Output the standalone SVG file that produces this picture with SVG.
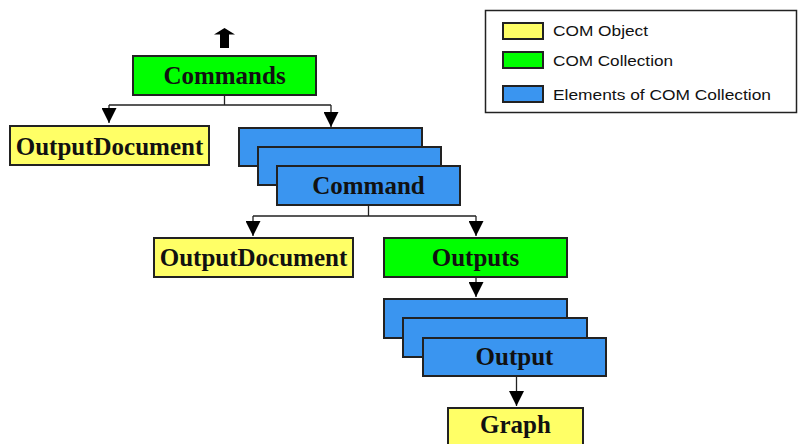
<svg xmlns="http://www.w3.org/2000/svg" width="799" height="444" viewBox="0 0 799 444">
<style>
.box{stroke:#222;stroke-width:2}
.obj{fill:#ffff66}
.col{fill:#00ff00}
.el{fill:#3a95f0}
.lbl{font-family:"Liberation Serif","Times New Roman",serif;font-weight:bold;font-size:25px;fill:#111;text-anchor:middle}
.leg{font-family:"Liberation Sans",Arial,sans-serif;font-size:15.5px;fill:#111}
.con{fill:none;stroke:#222;stroke-width:1.3}
</style>
<defs>
<marker id="ah" markerUnits="userSpaceOnUse" markerWidth="15" markerHeight="15" refX="15" refY="7.5" orient="auto">
<path d="M0,0 L15,7.5 L0,15 z" fill="#000"/>
</marker>
</defs>
<rect width="799" height="444" fill="#fff"/>
<g id="legend">
<rect x="485.5" y="10.5" width="311" height="102" fill="#fff" stroke="#222" stroke-width="1.5"/>
<rect class="box obj" x="503" y="23" width="40" height="16" stroke-width="1.5"/>
<rect class="box col" x="503" y="52" width="40" height="16" stroke-width="1.5"/>
<rect class="box el" x="503" y="86" width="40" height="16" stroke-width="1.5"/>
<text class="leg" x="553" y="35.5" textLength="95" lengthAdjust="spacingAndGlyphs">COM Object</text>
<text class="leg" x="553" y="66" textLength="120" lengthAdjust="spacingAndGlyphs">COM Collection</text>
<text class="leg" x="553" y="100" textLength="218" lengthAdjust="spacingAndGlyphs">Elements of COM Collection</text>
</g>
<g id="connectors">
<polygon points="214,34.5 224.5,28 235,34.5 229,34.5 229,48 220,48 220,34.5" fill="#000"/>
<path class="con" d="M224.5,95 V105 M109,105 H331"/>
<path class="con" d="M109,105 V123" marker-end="url(#ah)"/>
<path class="con" d="M331,105 V127" marker-end="url(#ah)"/>
<path class="con" d="M368.5,205 V216 M253,216 H476"/>
<path class="con" d="M253,216 V236" marker-end="url(#ah)"/>
<path class="con" d="M476,216 V236" marker-end="url(#ah)"/>
<path class="con" d="M476,277 V297" marker-end="url(#ah)"/>
<path class="con" d="M516.5,376 V406" marker-end="url(#ah)"/>
</g>
<g id="commands">
<rect class="box col" x="133" y="56" width="183" height="39"/>
<text class="lbl" x="224.5" y="84">Commands</text>
</g>
<g id="outputdocument1">
<rect class="box obj" x="10" y="126" width="199" height="39"/>
<text class="lbl" x="109.5" y="155">OutputDocument</text>
</g>
<g id="command">
<rect class="box el" x="239" y="128" width="183" height="38"/>
<rect class="box el" x="258" y="147" width="183" height="38"/>
<rect class="box el" x="277" y="166" width="183" height="39"/>
<text class="lbl" x="368.5" y="194">Command</text>
</g>
<g id="outputdocument2">
<rect class="box obj" x="154" y="238" width="199" height="39"/>
<text class="lbl" x="253.5" y="266">OutputDocument</text>
</g>
<g id="outputs">
<rect class="box col" x="384" y="238" width="183" height="39"/>
<text class="lbl" x="475.5" y="266">Outputs</text>
</g>
<g id="output">
<rect class="box el" x="384" y="299" width="183" height="39"/>
<rect class="box el" x="403" y="318" width="184" height="39"/>
<rect class="box el" x="423" y="338" width="183" height="38"/>
<text class="lbl" x="514.5" y="365">Output</text>
</g>
<g id="graph">
<rect class="box obj" x="448" y="408" width="135" height="39"/>
<text class="lbl" x="515.5" y="433">Graph</text>
</g>
</svg>
